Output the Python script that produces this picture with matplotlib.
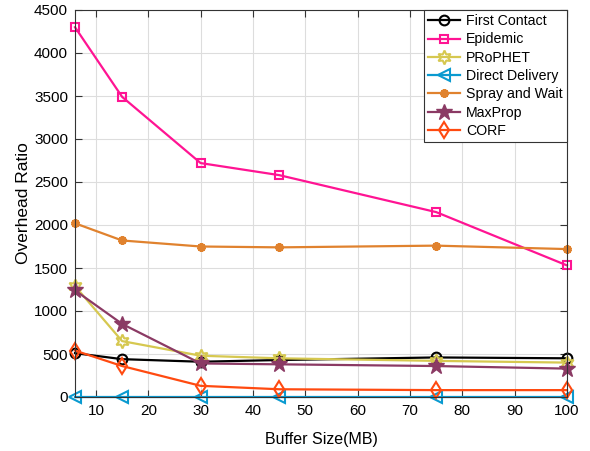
# Overhead ratio vs buffer size
import matplotlib.pyplot as plt

plt.rcParams['font.family'] = ['Liberation Sans', 'DejaVu Sans']
plt.rcParams['xtick.direction'] = 'in'
plt.rcParams['ytick.direction'] = 'in'

buffer_mb = [6, 15, 30, 45, 75, 100]

first_contact = [510, 440, 410, 430, 460, 450]
epidemic = [4300, 3490, 2720, 2580, 2150, 1530]
prophet = [1290, 650, 480, 450, 420, 400]
direct_delivery = [0, 0, 0, 0, 0, 0]
spray_wait = [2020, 1820, 1750, 1740, 1760, 1720]
maxprop = [1240, 850, 390, 380, 360, 330]
corf = [540, 360, 130, 90, 80, 80]

fig = plt.figure(figsize=(5.9, 4.51), dpi=100)
ax = fig.add_axes([75/590, 1 - 397/451, (567-75)/590, (397-10)/451])

kw = dict(lw=1.6, clip_on=False)
ax.plot(buffer_mb, first_contact, '-o', color='black', ms=7, mfc='none', mew=1.5, label='First Contact', **kw)
ax.plot(buffer_mb, epidemic, '-s', color='#FF1493', ms=6, mfc='none', mew=1.5, label='Epidemic', **kw)
ax.plot(buffer_mb, prophet, '-', marker=(6, 1, 0), color='#D6C850', ms=10, mfc='none', mew=1.5, label='PRoPHET', **kw)
ax.plot(buffer_mb, direct_delivery, '-<', color='#0A9AD0', ms=8, mfc='none', mew=1.5, label='Direct Delivery', **kw)
ax.plot(buffer_mb, spray_wait, '-', marker=(6, 2, 0), color='#E0822E', ms=6, mew=2.5, label='Spray and Wait', **kw)
ax.plot(buffer_mb, maxprop, '-*', color='#8B3A64', ms=12, label='MaxProp', **kw)
ax.plot(buffer_mb, corf, '-d', color='#FF4A10', ms=8, mfc='none', mew=1.5, label='CORF', **kw)

ax.set_xlim(6, 100)
ax.set_ylim(0, 4500)
ax.set_xticks(range(10, 101, 10))
ax.set_yticks(range(0, 4501, 500))
ax.grid(True, color='#DDDDDD', lw=0.8)
ax.set_axisbelow(True)
ax.tick_params(labelsize=11, top=True, right=True, length=5, color='#333333', pad=5)
for s in ax.spines.values():
    s.set_color('#333333')

ax.set_xlabel('Buffer Size(MB)', fontsize=11.5, labelpad=10)
ax.set_ylabel('Overhead Ratio', fontsize=12.5, labelpad=2)

leg = ax.legend(loc='upper right', fontsize=10.2, fancybox=False, framealpha=1,
                edgecolor='#333333', borderaxespad=0.0, handlelength=2.3,
                labelspacing=0.3, borderpad=0.3, handletextpad=0.4)
leg.get_frame().set_linewidth(0.8)

fig.savefig('out.png', dpi=100)
